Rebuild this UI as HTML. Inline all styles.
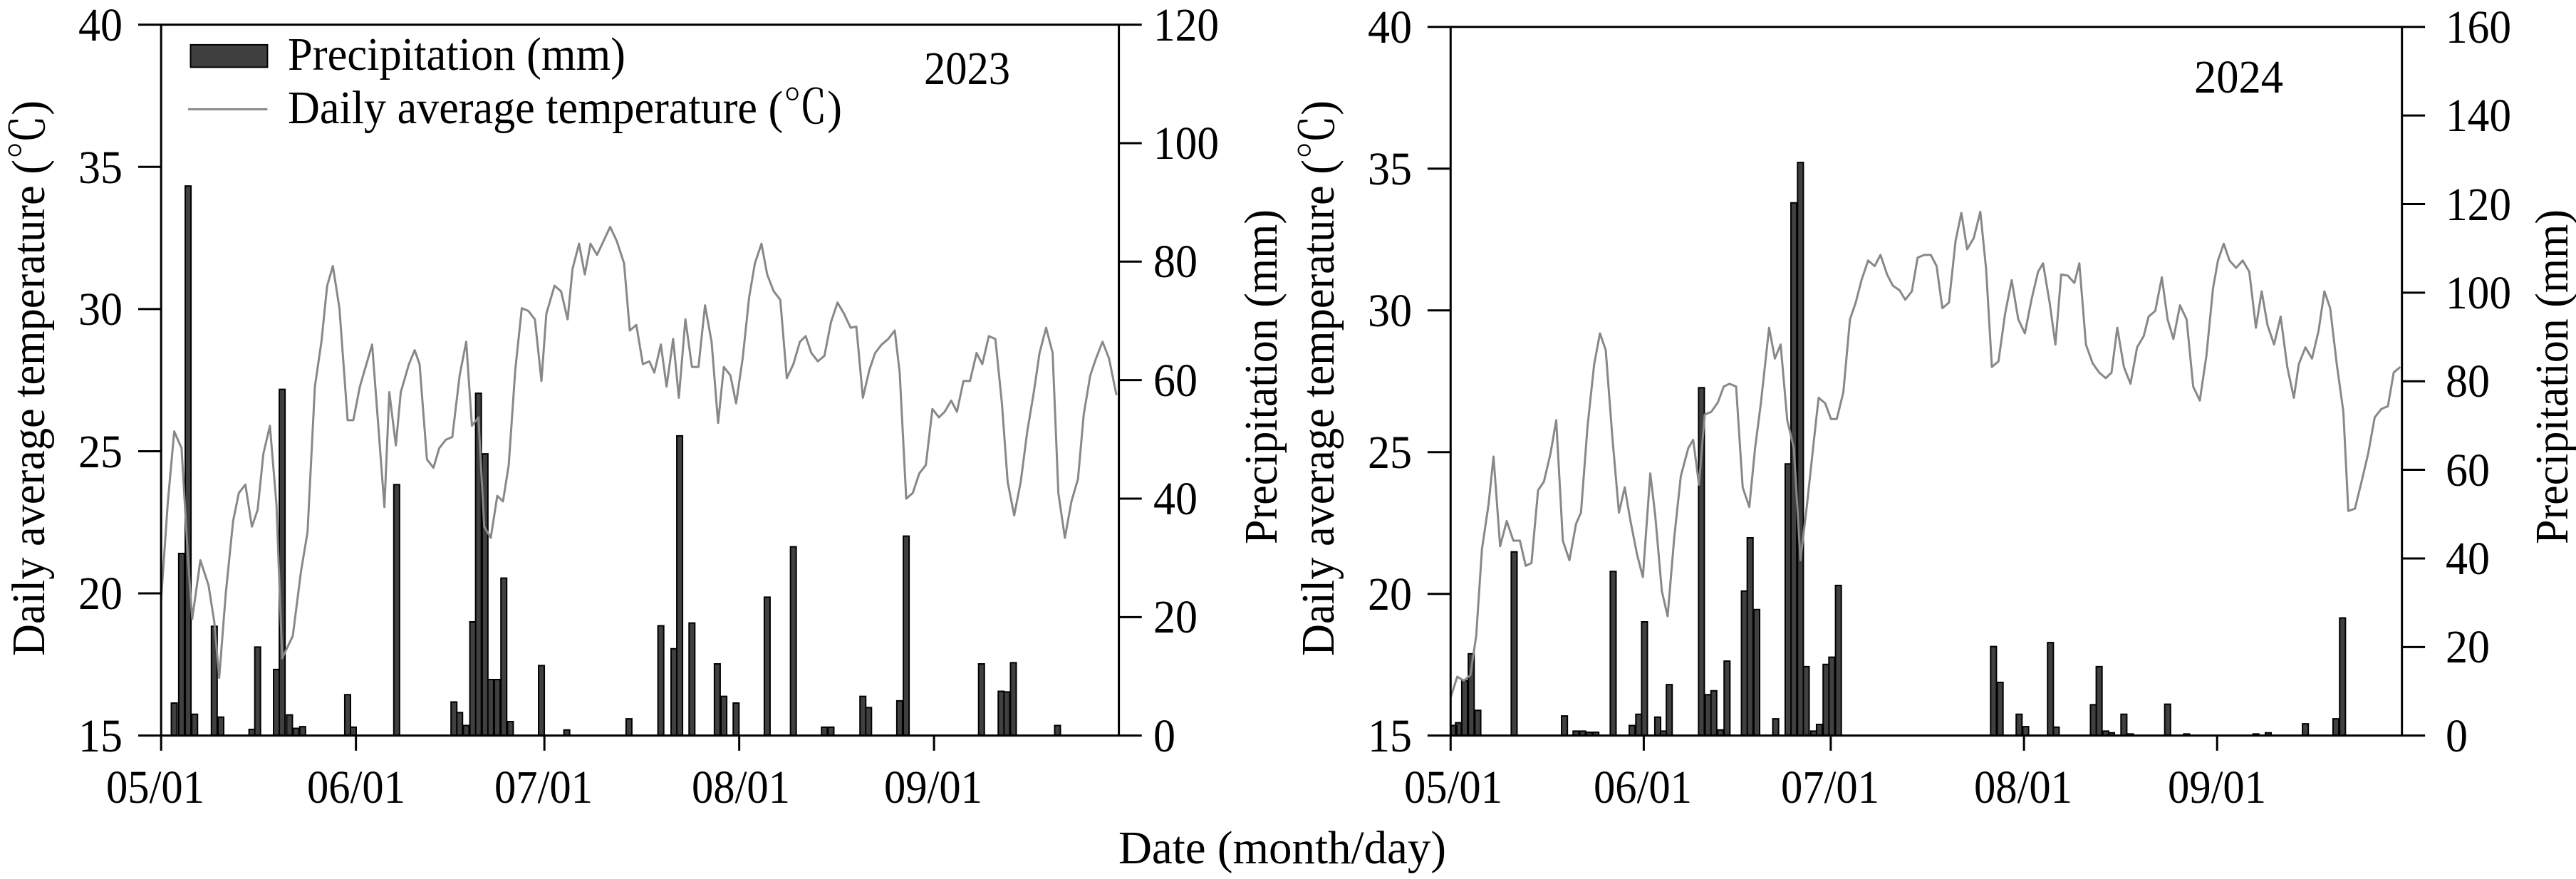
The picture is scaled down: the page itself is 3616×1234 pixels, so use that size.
<!DOCTYPE html>
<html><head><meta charset="utf-8"><style>
html,body{margin:0;padding:0;background:#fff}
svg{display:block}
text{font-family:"Liberation Serif","Times New Roman","Noto Serif CJK SC",serif;font-size:66px;fill:#000}
.ax{fill:none;stroke:#000;stroke-width:3}
.tl{fill:none;stroke:#888;stroke-width:3;stroke-linejoin:round}
.br{fill:#404040;stroke:#000;stroke-width:2}
</style></head><body>
<svg width="3616" height="1234" viewBox="0 0 3616 1234" xmlns="http://www.w3.org/2000/svg" font-family="Liberation Serif, serif">
<g transform="scale(1.1481,0.7865)">
<path class="br" vector-effect="non-scaling-stroke" d="M209.5 1313V1255H216.5V1313ZM218.5 1313V988H225.5V1313ZM226.5 1313V332H233.5V1313ZM234.5 1313V1275H241.5V1313ZM258.5 1313V1118H265.5V1313ZM266.5 1313V1280H273.5V1313ZM304.5 1313V1302H311.5V1313ZM311.5 1313V1155H318.5V1313ZM334.5 1313V1195H341.5V1313ZM341.5 1313V695H348.5V1313ZM350.5 1313V1276H357.5V1313ZM358.5 1313V1300H365.5V1313ZM366.5 1313V1297H373.5V1313ZM421.5 1313V1240H428.5V1313ZM428.5 1313V1298H435.5V1313ZM481.5 1313V865H488.5V1313ZM551.5 1313V1253H558.5V1313ZM558.5 1313V1272H565.5V1313ZM566.5 1313V1295H573.5V1313ZM574.5 1313V1110H581.5V1313ZM581.5 1313V702H588.5V1313ZM589.5 1313V810H596.5V1313ZM596.5 1313V1213H603.5V1313ZM604.5 1313V1213H611.5V1313ZM612.5 1313V1032H619.5V1313ZM620.5 1313V1288H627.5V1313ZM658.5 1313V1188H665.5V1313ZM689.5 1313V1303H696.5V1313ZM765.5 1313V1283H772.5V1313ZM804.5 1313V1117H811.5V1313ZM820.5 1313V1158H827.5V1313ZM827.5 1313V778H834.5V1313ZM842.5 1313V1112H849.5V1313ZM873.5 1313V1185H880.5V1313ZM881.5 1313V1243H888.5V1313ZM896.5 1313V1255H903.5V1313ZM934.5 1313V1066H941.5V1313ZM966.5 1313V976H973.5V1313ZM1004.5 1313V1298H1011.5V1313ZM1012.5 1313V1298H1019.5V1313ZM1051.5 1313V1243H1058.5V1313ZM1058.5 1313V1263H1065.5V1313ZM1096.5 1313V1251H1103.5V1313ZM1104.5 1313V957H1111.5V1313ZM1196.5 1313V1185H1203.5V1313ZM1220.5 1313V1234H1227.5V1313ZM1227.5 1313V1235H1234.5V1313ZM1235.5 1313V1183H1242.5V1313ZM1289.5 1313V1295H1296.5V1313Z"/>
<polyline class="tl" vector-effect="non-scaling-stroke" points="197,1070 205,900 213,770 222,800 230,1000 235,1105 245,1000 255,1045 262,1110 268,1210 276,1060 285,930 292,880 300,865 308,940 315,910 322,810 330,760 338,900 345,1175 358,1135 368,1020 376,950 385,690 393,610 400,510 407,475 415,550 425,750 432,750 440,690 448,650 455,615 462,750 470,905 476,700 484,795 490,700 500,650 507,625 513,650 522,820 530,835 537,800 545,785 553,780 562,670 570,610 577,760 585,745 592,940 600,960 608,885 615,895 622,830 630,660 638,550 646,555 654,570 662,680 668,560 678,510 686,520 694,570 700,480 708,435 715,490 722,435 730,455 738,430 746,405 754,430 763,470 770,590 778,580 786,650 794,645 800,665 808,615 815,690 823,605 830,710 838,570 846,655 854,655 862,545 870,610 878,755 885,655 893,670 900,720 908,640 916,530 923,470 931,435 938,490 946,520 954,535 962,675 970,650 978,610 985,600 992,630 1000,645 1008,635 1016,575 1024,540 1032,560 1040,585 1047,583 1055,710 1063,660 1070,630 1078,615 1086,605 1094,590 1100,665 1108,890 1116,880 1124,845 1132,830 1140,730 1148,745 1155,735 1163,715 1170,735 1178,680 1186,680 1194,630 1201,650 1209,600 1217,605 1225,720 1232,860 1240,920 1248,860 1256,770 1264,700 1271,630 1279,585 1287,630 1294,880 1302,960 1310,895 1318,855 1325,740 1333,670 1340,640 1348,610 1356,640 1365,705"/>
<path class="ax" vector-effect="non-scaling-stroke" d="M197 44H1368V1313H197Z M169 44H197 M169 297.8H197 M169 551.6H197 M169 805.4H197 M169 1059.2H197 M169 1313H197 M1368 44H1396 M1368 255.5H1396 M1368 467H1396 M1368 678.5H1396 M1368 890H1396 M1368 1101.5H1396 M1368 1313H1396 M197 1313V1340 M435.2 1313V1340 M665.6 1313V1340 M903.8 1313V1340 M1142 1313V1340"/>
<rect class="br" vector-effect="non-scaling-stroke" x="233" y="80" width="94" height="40"/>
<path class="tl" vector-effect="non-scaling-stroke" d="M230 195H327"/>
</g>
<g transform="translate(1800,0) scale(1.1582,0.7865)">
<path class="br" vector-effect="non-scaling-stroke" d="M204.5 1313V1295H211.5V1313ZM210 1313V1290H217V1313ZM217.5 1313V1215H224.5V1313ZM225.5 1313V1167H232.5V1313ZM233.5 1313V1268H240.5V1313ZM277.5 1313V985H284.5V1313ZM338.5 1313V1278H345.5V1313ZM352.5 1313V1305H359.5V1313ZM360.5 1313V1305H367.5V1313ZM368.5 1313V1307H375.5V1313ZM376.5 1313V1307H383.5V1313ZM397.5 1313V1020H404.5V1313ZM420.5 1313V1295H427.5V1313ZM428.5 1313V1275H435.5V1313ZM435.5 1313V1110H442.5V1313ZM451.5 1313V1280H458.5V1313ZM458.5 1313V1305H465.5V1313ZM465.5 1313V1222H472.5V1313ZM504.5 1313V692H511.5V1313ZM512.5 1313V1240H519.5V1313ZM519.5 1313V1233H526.5V1313ZM527.5 1313V1303H534.5V1313ZM535.5 1313V1180H542.5V1313ZM556.5 1313V1055H563.5V1313ZM563.5 1313V960H570.5V1313ZM571.5 1313V1088H578.5V1313ZM594.5 1313V1283H601.5V1313ZM609.5 1313V828H616.5V1313ZM616.5 1313V362H623.5V1313ZM624.5 1313V290H631.5V1313ZM631.5 1313V1190H638.5V1313ZM640.5 1313V1305H647.5V1313ZM647.5 1313V1293H654.5V1313ZM655.5 1313V1186H662.5V1313ZM662.5 1313V1173H669.5V1313ZM670.5 1313V1045H677.5V1313ZM858.5 1313V1154H865.5V1313ZM866.5 1313V1218H873.5V1313ZM889.5 1313V1275H896.5V1313ZM897.5 1313V1297H904.5V1313ZM927.5 1313V1147H934.5V1313ZM934.5 1313V1298H941.5V1313ZM979.5 1313V1258H986.5V1313ZM986.5 1313V1190H993.5V1313ZM994.5 1313V1305H1001.5V1313ZM1001.5 1313V1308H1008.5V1313ZM1016.5 1313V1275H1023.5V1313ZM1024.5 1313V1310H1031.5V1313ZM1069.5 1313V1257H1076.5V1313ZM1092.5 1313V1310H1099.5V1313ZM1176.5 1313V1310H1183.5V1313ZM1191.5 1313V1308H1198.5V1313ZM1236.5 1313V1292H1243.5V1313ZM1273.5 1313V1283H1280.5V1313ZM1281.5 1313V1103H1288.5V1313Z"/>
<polyline class="tl" vector-effect="non-scaling-stroke" points="204,1245 212,1208 220,1215 228,1205 235,1135 242,980 250,900 256,815 264,975 272,930 280,965 288,965 295,1010 302,1005 310,875 317,860 325,810 332,750 340,965 348,1000 356,935 362,915 370,760 378,650 385,595 392,625 400,780 408,915 415,870 422,930 430,990 437,1030 446,845 452,920 460,1055 467,1100 475,960 483,850 492,800 498,785 505,865 512,740 520,735 528,718 535,690 542,685 550,690 558,870 566,905 573,800 580,720 590,585 597,640 604,615 612,750 620,800 628,1000 636,900 644,790 650,710 658,720 665,748 672,748 680,700 688,570 695,540 702,500 710,465 718,475 725,455 733,490 740,510 748,518 755,535 763,520 770,460 778,455 786,455 793,475 800,550 808,540 816,430 823,380 830,445 838,425 846,378 853,480 860,655 868,645 876,560 884,500 892,570 900,595 908,535 916,485 922,470 930,540 937,615 944,490 952,492 960,505 966,470 974,615 982,648 990,665 998,675 1005,665 1012,585 1020,655 1028,685 1036,620 1044,600 1050,565 1058,555 1066,495 1073,570 1080,605 1088,545 1096,570 1104,690 1112,715 1120,635 1128,515 1134,465 1141,435 1148,465 1156,478 1164,465 1172,485 1180,585 1187,520 1194,580 1202,615 1210,565 1218,655 1226,710 1232,650 1240,620 1248,640 1256,590 1263,520 1270,550 1278,650 1286,735 1292,912 1300,908 1308,860 1316,810 1324,745 1332,730 1340,725 1347,665 1355,655"/>
<path class="ax" vector-effect="non-scaling-stroke" d="M204 48H1357V1313H204Z M176 48H204 M176 301H204 M176 554H204 M176 807H204 M176 1060H204 M176 1313H204 M1357 48H1385 M1357 206.1H1385 M1357 364.3H1385 M1357 522.4H1385 M1357 680.5H1385 M1357 838.6H1385 M1357 996.8H1385 M1357 1154.9H1385 M1357 1313H1385 M204 1313V1340 M438.1 1313V1340 M664.7 1313V1340 M898.9 1313V1340 M1133 1313V1340"/>
</g>
<g text-anchor="end" lengthAdjust="spacingAndGlyphs">
<text x="172" y="57" textLength="62" lengthAdjust="spacingAndGlyphs">40</text><text x="172" y="257" textLength="62" lengthAdjust="spacingAndGlyphs">35</text><text x="172" y="456" textLength="62" lengthAdjust="spacingAndGlyphs">30</text><text x="172" y="656" textLength="62" lengthAdjust="spacingAndGlyphs">25</text><text x="172" y="855" textLength="62" lengthAdjust="spacingAndGlyphs">20</text><text x="172" y="1055" textLength="62" lengthAdjust="spacingAndGlyphs">15</text>
<text x="1982" y="60" textLength="62" lengthAdjust="spacingAndGlyphs">40</text><text x="1982" y="259" textLength="62" lengthAdjust="spacingAndGlyphs">35</text><text x="1982" y="458" textLength="62" lengthAdjust="spacingAndGlyphs">30</text><text x="1982" y="657" textLength="62" lengthAdjust="spacingAndGlyphs">25</text><text x="1982" y="856" textLength="62" lengthAdjust="spacingAndGlyphs">20</text><text x="1982" y="1055" textLength="62" lengthAdjust="spacingAndGlyphs">15</text>
</g>
<g>
<text x="1619" y="57" textLength="92" lengthAdjust="spacingAndGlyphs">120</text><text x="1619" y="223" textLength="92" lengthAdjust="spacingAndGlyphs">100</text><text x="1619" y="389" textLength="62" lengthAdjust="spacingAndGlyphs">80</text><text x="1619" y="556" textLength="62" lengthAdjust="spacingAndGlyphs">60</text><text x="1619" y="722" textLength="62" lengthAdjust="spacingAndGlyphs">40</text><text x="1619" y="888" textLength="62" lengthAdjust="spacingAndGlyphs">20</text><text x="1619" y="1055" textLength="31" lengthAdjust="spacingAndGlyphs">0</text>
<text x="3433" y="60" textLength="92" lengthAdjust="spacingAndGlyphs">160</text><text x="3433" y="184" textLength="92" lengthAdjust="spacingAndGlyphs">140</text><text x="3433" y="309" textLength="92" lengthAdjust="spacingAndGlyphs">120</text><text x="3433" y="433" textLength="92" lengthAdjust="spacingAndGlyphs">100</text><text x="3433" y="557" textLength="62" lengthAdjust="spacingAndGlyphs">80</text><text x="3433" y="682" textLength="62" lengthAdjust="spacingAndGlyphs">60</text><text x="3433" y="806" textLength="62" lengthAdjust="spacingAndGlyphs">40</text><text x="3433" y="930" textLength="62" lengthAdjust="spacingAndGlyphs">20</text><text x="3433" y="1055" textLength="31" lengthAdjust="spacingAndGlyphs">0</text>
</g>
<g text-anchor="middle">
<text x="218" y="1127" textLength="138" lengthAdjust="spacingAndGlyphs">05/01</text><text x="500" y="1127" textLength="138" lengthAdjust="spacingAndGlyphs">06/01</text><text x="763" y="1127" textLength="138" lengthAdjust="spacingAndGlyphs">07/01</text><text x="1040" y="1127" textLength="138" lengthAdjust="spacingAndGlyphs">08/01</text><text x="1310" y="1127" textLength="138" lengthAdjust="spacingAndGlyphs">09/01</text>
<text x="2040" y="1127" textLength="138" lengthAdjust="spacingAndGlyphs">05/01</text><text x="2306" y="1127" textLength="138" lengthAdjust="spacingAndGlyphs">06/01</text><text x="2569" y="1127" textLength="138" lengthAdjust="spacingAndGlyphs">07/01</text><text x="2840" y="1127" textLength="138" lengthAdjust="spacingAndGlyphs">08/01</text><text x="3112" y="1127" textLength="138" lengthAdjust="spacingAndGlyphs">09/01</text>
<text x="1800" y="1212" textLength="460" lengthAdjust="spacingAndGlyphs">Date (month/day)</text>
<text transform="translate(62,531) rotate(-90)" textLength="780" lengthAdjust="spacingAndGlyphs">Daily average temperature (℃)</text>
<text transform="translate(1872,531) rotate(-90)" textLength="780" lengthAdjust="spacingAndGlyphs">Daily average temperature (℃)</text>
<text transform="translate(1792,529) rotate(-90)" textLength="470" lengthAdjust="spacingAndGlyphs">Precipitation (mm)</text>
<text transform="translate(3604,529) rotate(-90)" textLength="470" lengthAdjust="spacingAndGlyphs">Precipitation (mm)</text>
</g>
<text x="404" y="98" textLength="474" lengthAdjust="spacingAndGlyphs">Precipitation (mm)</text>
<text x="404" y="173" textLength="778" lengthAdjust="spacingAndGlyphs">Daily average temperature (℃)</text>
<text x="1297" y="118" textLength="121" lengthAdjust="spacingAndGlyphs">2023</text>
<text x="3080" y="130" textLength="125" lengthAdjust="spacingAndGlyphs">2024</text>
</svg>
</body></html>
